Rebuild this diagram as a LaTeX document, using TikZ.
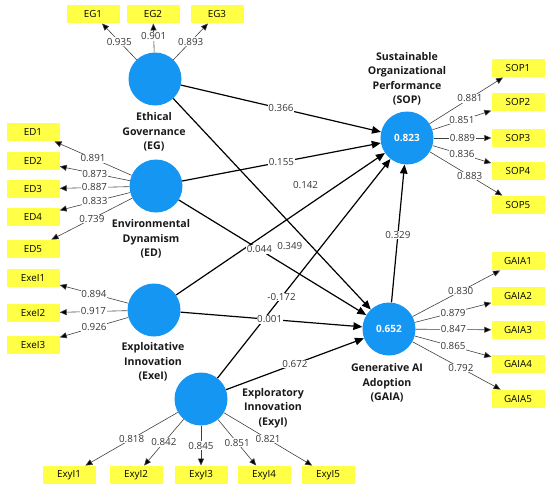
\documentclass[tikz,border=0pt]{standalone}
\usepackage{fontspec}
\setmainfont{Open Sans}
\usetikzlibrary{arrows.meta}
\definecolor{lvblue}{RGB}{22,150,243}
\definecolor{indyellow}{RGB}{255,255,70}
\definecolor{labgray}{RGB}{55,55,55}
\begin{document}
\begin{tikzpicture}[x=1pt,y=-1pt,
  lv/.style={circle,fill=lvblue,minimum size=53pt,inner sep=0pt,text=white,font=\fontsize{10}{11}\selectfont\bfseries},
  ind/.style={rectangle,fill=indyellow,minimum width=53pt,minimum height=18.5pt,inner sep=0pt,font=\fontsize{9.8}{11}\selectfont},
  load/.style={draw=black!75,line width=0.6pt,-{Triangle[length=7pt,width=6pt,fill=black]}},
  spath/.style={draw=black,line width=1.2pt,-{Triangle[length=9pt,width=7.5pt]}},
  lab/.style={fill=white,inner sep=0.6pt,text=labgray,font=\fontsize{9.8}{10}\selectfont},
  nm/.style={align=center,font=\fontsize{10.6}{14.5}\selectfont\bfseries,text=black!90}]
\useasboundingbox (0,0) rectangle (550,491);
% latent variables
\node[lv] (EG) at (155,79) {};
\node[lv] (ED) at (156,186) {};
\node[lv] (EXE) at (154,310) {};
\node[lv] (EXY) at (201,399) {};
\node[lv] (SOP) at (407,138) {0.823};
\node[lv] (GAIA) at (389,329) {0.652};
% names
\node[nm] (nEG) at (154,132) {Ethical\\Governance\\(EG)};
\node[nm] (nED) at (151,239) {Environmental\\Dynamism\\(ED)};
\node[nm] (nEXE) at (153,362) {Exploitative\\Innovation\\(ExeI)};
\node[nm] (nEXY) at (273,408) {Exploratory\\Innovation\\(ExyI)};
\node[nm] (nSOP) at (407,79) {Sustainable\\Organizational\\Performance\\(SOP)};
\node[nm] (nGAIA) at (387,383) {Generative AI\\Adoption\\(GAIA)};
% indicators
\node[ind] (EG1) at (93,14) {EG1};
\node[ind] (EG2) at (153,14) {EG2};
\node[ind] (EG3) at (217,14) {EG3};
\node[ind] (ED1) at (33,132) {ED1};
\node[ind] (ED2) at (33,161) {ED2};
\node[ind] (ED3) at (33,189) {ED3};
\node[ind] (ED4) at (33,217) {ED4};
\node[ind] (ED5) at (33,249) {ED5};
\node[ind] (EXE1) at (33,278) {ExeI1};
\node[ind] (EXE2) at (33,313) {ExeI2};
\node[ind] (EXE3) at (33,345) {ExeI3};
\node[ind] (EXY1) at (69,475) {ExyI1};
\node[ind] (EXY2) at (136,475) {ExyI2};
\node[ind] (EXY3) at (201,475) {ExyI3};
\node[ind] (EXY4) at (264,475) {ExyI4};
\node[ind] (EXY5) at (328,475) {ExyI5};
\node[ind] (SOP1) at (518,68) {SOP1};
\node[ind] (SOP2) at (518,102) {SOP2};
\node[ind] (SOP3) at (518,138) {SOP3};
\node[ind] (SOP4) at (518,171) {SOP4};
\node[ind] (SOP5) at (518,205) {SOP5};
\node[ind] (GAIA1) at (518,261) {GAIA1};
\node[ind] (GAIA2) at (518,296) {GAIA2};
\node[ind] (GAIA3) at (518,330) {GAIA3};
\node[ind] (GAIA4) at (518,364) {GAIA4};
\node[ind] (GAIA5) at (518,399) {GAIA5};
% loadings
\draw[load] (EG) -- node[lab,pos=0.5] {0.935} (EG1);
\draw[load] (EG) -- node[lab,pos=0.55] {0.901} (EG2);
\draw[load] (EG) -- node[lab,pos=0.5] {0.893} (EG3);
\draw[load] (ED) -- node[lab,pos=0.5] {0.891} (ED1);
\draw[load] (ED) -- node[lab,pos=0.5] {0.873} (ED2);
\draw[load] (ED) -- node[lab,pos=0.5] {0.887} (ED3);
\draw[load] (ED) -- node[lab,pos=0.5] {0.833} (ED4);
\draw[load] (ED) -- node[lab,pos=0.5] {0.739} (ED5);
\draw[load] (EXE) -- node[lab,pos=0.5] {0.894} (EXE1);
\draw[load] (EXE) -- node[lab,pos=0.5] {0.917} (EXE2);
\draw[load] (EXE) -- node[lab,pos=0.5] {0.926} (EXE3);
\draw[load] (EXY) -- node[lab,pos=0.5] {0.818} (EXY1);
\draw[load] (EXY) -- node[lab,pos=0.5] {0.842} (EXY2);
\draw[load] (EXY) -- node[lab,pos=0.5] {0.845} (EXY3);
\draw[load] (EXY) -- node[lab,pos=0.5] {0.851} (EXY4);
\draw[load] (EXY) -- node[lab,pos=0.5] {0.821} (EXY5);
\draw[load] (SOP) -- node[lab,pos=0.55] {0.881} (SOP1);
\draw[load] (SOP) -- node[lab,pos=0.5] {0.851} (SOP2);
\draw[load] (SOP) -- node[lab,pos=0.5] {0.889} (SOP3);
\draw[load] (SOP) -- node[lab,pos=0.5] {0.836} (SOP4);
\draw[load] (SOP) -- node[lab,pos=0.55] {0.883} (SOP5);
\draw[load] (GAIA) -- node[lab,pos=0.55] {0.830} (GAIA1);
\draw[load] (GAIA) -- node[lab,pos=0.5] {0.879} (GAIA2);
\draw[load] (GAIA) -- node[lab,pos=0.5] {0.847} (GAIA3);
\draw[load] (GAIA) -- node[lab,pos=0.5] {0.865} (GAIA4);
\draw[load] (GAIA) -- node[lab,pos=0.55] {0.792} (GAIA5);
% structural paths
\draw[spath] (EG) -- node[lab,pos=0.5] {0.366} (SOP);
\draw[spath] (ED) -- node[lab,pos=0.5] {0.155} (SOP);
\draw[spath] (EXE) -- node[lab,pos=0.62,fill=none,yshift=22pt] {0.142} (SOP);
\draw[spath] (EXY) -- node[lab,pos=0.37] {-0.172} (SOP);
\draw[spath] (ED) -- node[lab,pos=0.43] {0.044} (GAIA);
\draw[spath] (EG) -- node[lab,pos=0.59,fill=none,yshift=-23pt] {0.349} (GAIA);
\draw[spath] (EXE) -- node[lab,pos=0.49] {0.001} (GAIA);
\draw[spath] (EXY) -- node[lab,pos=0.5] {0.672} (GAIA);
\draw[spath] (GAIA) -- node[lab,pos=0.49] {0.329} (SOP);
\end{tikzpicture}
\end{document}
